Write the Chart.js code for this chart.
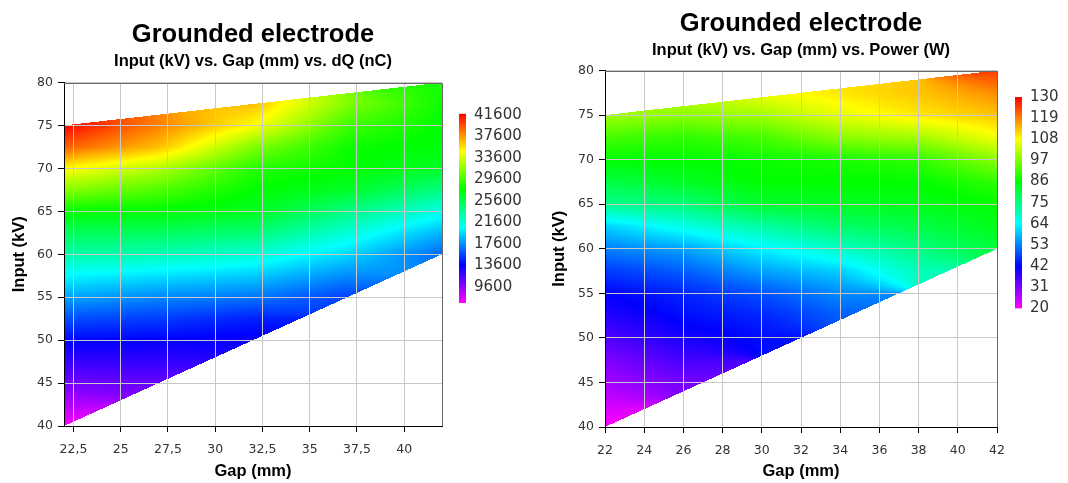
<!DOCTYPE html>
<html>
<head>
<meta charset="utf-8">
<script src="https://cdn.jsdelivr.net/npm/chart.js@4"></script>
<style>
  html, body { margin: 0; padding: 0; background: #fff; }
  body { width: 1068px; height: 483px; position: relative; overflow: hidden; }
  canvas { position: absolute; }
</style>
</head>
<body>
<canvas id="dqChart" width="506" height="483" style="left:0px;top:0px"></canvas>
<canvas id="dqBar" width="90" height="240" style="left:440px;top:90px"></canvas>
<canvas id="pwChart" width="534" height="483" style="left:534px;top:0px"></canvas>
<canvas id="pwBar" width="72" height="250" style="left:996px;top:80px"></canvas>
<script>
// measured domain: trapezoid between these edges (gap mm -> input kV)
const edgeGap = [22, 42];
const edgeLow = [40, 60];
const edgeHigh = [75, 80];

const inputRows = [40, 42.5, 45, 47.5, 50, 52.5, 55, 57.5, 60, 62.5, 65, 67.5, 70, 72.5, 75, 77.5, 80];
const inputTicks = [40, 45, 50, 55, 60, 65, 70, 75, 80];

// left: dQ (nC), one row per input value, one column per gap
const dqGap = [22, 27, 32, 37, 42];
const dqValues = [
  [6600, null, null, null, null],
  [8700, null, null, null, null],
  [10500, 10800, null, null, null],
  [12200, 12300, null, null, null],
  [13800, 13600, 13300, null, null],
  [15800, 15300, 14500, null, null],
  [18200, 17400, 16900, 15400, null],
  [20600, 19900, 19300, 17500, null],
  [23200, 22800, 21900, 19600, 16500],
  [25300, 25200, 24600, 21800, 18600],
  [27750, 27600, 26900, 24200, 21400],
  [31500, 29900, 27750, 26700, 24200],
  [34900, 32700, 28800, 27750, 26700],
  [39300, 36600, 31300, 28100, 27400],
  [41800, 38300, 34800, 29500, 27750],
  [null, null, 36600, 31300, 28100],
  [null, null, null, null, 28500]
];
const dqTicksX = [22.5, 25, 27.5, 30, 32.5, 35, 37.5, 40];
const dqBarTicks = [9600, 13600, 17600, 21600, 25600, 29600, 33600, 37600, 41600];
const dqRange = [6600, 41850];

// right: Power (W)
const pwGap = [22, 26, 30, 34, 38, 42];
const pwValues = [
  [20, null, null, null, null, null],
  [24, null, null, null, null, null],
  [28, 32, null, null, null, null],
  [31, 36, null, null, null, null],
  [35, 40, 43, null, null, null],
  [39, 43, 45, 50, null, null],
  [42, 45, 49, 54, null, null],
  [47, 50, 56, 60, 70, null],
  [53, 56, 63, 69, 75, 81],
  [60, 66, 72, 77, 80, 84],
  [74, 76, 82, 83, 84, 86],
  [80, 83, 86, 86, 86, 90],
  [86, 86, 87, 88, 90, 98],
  [92, 90, 92, 98, 100, 107],
  [100, 98, 100, 106, 110, 113],
  [null, 103, 107, 110, 113, 118],
  [null, null, null, null, null, 125]
];
const pwTicksX = [22, 24, 26, 28, 30, 32, 34, 36, 38, 40, 42];
const pwBarTicks = [20, 31, 42, 53, 64, 75, 86, 97, 108, 119, 130];
const pwRange = [20, 130];

// magenta -> blue -> cyan -> green -> yellow -> red
const rainbow = [
  [0, 255, 0, 255],
  [0.2, 0, 0, 255],
  [0.4, 0, 255, 255],
  [0.6, 0, 255, 0],
  [0.8, 255, 255, 0],
  [1, 255, 0, 0]
];

Chart.defaults.font.family = "'DejaVu Sans'";
Chart.defaults.font.size = 12.5;
Chart.defaults.color = '#333';

function colorAt(f) {
  f = Math.max(0, Math.min(1, f));
  for (let i = 1; i < rainbow.length; i++) {
    const a = rainbow[i - 1], b = rainbow[i];
    if (f <= b[0]) {
      const t = (f - a[0]) / (b[0] - a[0]);
      return [a[1] + t * (b[1] - a[1]), a[2] + t * (b[2] - a[2]), a[3] + t * (b[3] - a[3])];
    }
  }
  return rainbow[rainbow.length - 1].slice(1);
}

function cellIndex(arr, v) {
  let i = 0;
  while (i < arr.length - 2 && v > arr[i + 1]) i++;
  return i;
}

// bilinear over the grid, skipping corners outside the measured area
function sample(gaps, values, g, v) {
  const i = cellIndex(gaps, g), j = cellIndex(inputRows, v);
  const tx = Math.max(0, Math.min(1, (g - gaps[i]) / (gaps[i + 1] - gaps[i])));
  const ty = Math.max(0, Math.min(1, (v - inputRows[j]) / (inputRows[j + 1] - inputRows[j])));
  const corners = [
    [values[j][i], (1 - tx) * (1 - ty)],
    [values[j][i + 1], tx * (1 - ty)],
    [values[j + 1][i], (1 - tx) * ty],
    [values[j + 1][i + 1], tx * ty]
  ];
  let sum = 0, wsum = 0, plain = 0, n = 0;
  corners.forEach(([val, w]) => {
    if (val === null) return;
    sum += val * w; wsum += w; plain += val; n++;
  });
  if (wsum > 1e-9) return sum / wsum;
  return n ? plain / n : null;
}

function fieldPlugin(gaps, values, range) {
  return {
    id: 'field',
    beforeDraw(chart) {
      const { ctx, chartArea: a, scales: { x, y } } = chart;
      const left = Math.round(a.left), top = Math.round(a.top);
      const w = Math.round(a.right) - left, h = Math.round(a.bottom) - top;
      const img = ctx.createImageData(w, h);
      for (let py = 0; py < h; py++) {
        const v = y.getValueForPixel(top + py + 0.5);
        for (let px = 0; px < w; px++) {
          const g = x.getValueForPixel(left + px + 0.5);
          const t = (g - edgeGap[0]) / (edgeGap[1] - edgeGap[0]);
          const lo = edgeLow[0] + t * (edgeLow[1] - edgeLow[0]);
          const hi = edgeHigh[0] + t * (edgeHigh[1] - edgeHigh[0]);
          if (v < lo || v > hi) continue;
          const val = sample(gaps, values, g, v);
          if (val === null) continue;
          const c = colorAt((val - range[0]) / (range[1] - range[0]));
          const k = (py * w + px) * 4;
          img.data[k] = c[0];
          img.data[k + 1] = c[1];
          img.data[k + 2] = c[2];
          img.data[k + 3] = 255;
        }
      }
      const off = document.createElement('canvas');
      off.width = w;
      off.height = h;
      off.getContext('2d').putImageData(img, 0, 0);
      ctx.drawImage(off, left, top);
    }
  };
}

// grey top and right edges of the plot box
const frame = {
  id: 'frame',
  afterDraw(chart) {
    const { ctx, chartArea: a } = chart;
    ctx.save();
    ctx.strokeStyle = '#666';
    ctx.lineWidth = 1;
    ctx.beginPath();
    ctx.moveTo(a.left, Math.round(a.top) + 0.5);
    ctx.lineTo(Math.round(a.right) + 0.5, Math.round(a.top) + 0.5);
    ctx.lineTo(Math.round(a.right) + 0.5, a.bottom);
    ctx.stroke();
    ctx.restore();
  }
};

const titleFont = { family: "'Liberation Sans'", weight: 'bold' };

function contourChart(id, gaps, values, range, xTicks, fmt, subtitle, lay) {
  return new Chart(document.getElementById(id), {
    type: 'scatter',
    data: { datasets: [{ data: [] }] },
    options: {
      responsive: false,
      animation: false,
      layout: { padding: { left: 0, right: lay.right, top: 0, bottom: 0 } },
      scales: {
        x: {
          type: 'linear',
          min: 22,
          max: 42,
          afterBuildTicks: s => { s.ticks = xTicks.map(v => ({ value: v })); },
          afterFit: s => { s.height = lay.xHeight; },
          grid: { color: '#c8c8c8', tickColor: '#000', tickLength: 6 },
          border: { color: '#000' },
          ticks: { padding: 10, maxRotation: 0, autoSkip: false, callback: fmt },
          title: {
            display: true, text: 'Gap (mm)', color: '#000',
            font: { ...titleFont, size: 16.5 }, padding: { top: 2, bottom: 2 }
          }
        },
        y: {
          type: 'linear',
          min: 40,
          max: 80,
          afterBuildTicks: s => { s.ticks = inputTicks.map(v => ({ value: v })); },
          afterFit: s => { s.width = lay.yWidth; },
          grid: { color: '#c8c8c8', tickColor: '#000', tickLength: 6 },
          border: { color: '#000' },
          ticks: { padding: 5 },
          title: {
            display: true, text: 'Input (kV)', color: '#000',
            font: { ...titleFont, size: 16.5 }, padding: { top: lay.yTitle, bottom: lay.yTitle }
          }
        }
      },
      plugins: {
        legend: { display: false },
        tooltip: { enabled: false },
        title: {
          display: true, fullSize: false, text: 'Grounded electrode', color: '#000',
          font: { ...titleFont, size: 25.5 }, padding: { top: lay.titleTop, bottom: 0 }
        },
        subtitle: {
          display: true, fullSize: false, text: subtitle, color: '#000',
          font: { ...titleFont, size: 16.5 }, padding: { top: 1.6, bottom: lay.subBottom }
        }
      }
    },
    plugins: [fieldPlugin(gaps, values, range), frame]
  });
}

function colorBar(id, range, ticks, lay) {
  return new Chart(document.getElementById(id), {
    type: 'bar',
    data: {
      labels: [''],
      datasets: [{
        data: [range],
        borderWidth: 0,
        barPercentage: 1,
        categoryPercentage: 1,
        backgroundColor: c => {
          const y = c.chart.scales.y;
          if (!c.chart.chartArea || !y) return 'rgba(0,0,0,0)';
          const y0 = y.getPixelForValue(range[0]), y1 = y.getPixelForValue(range[1]);
          if (!isFinite(y0) || !isFinite(y1)) return 'rgba(0,0,0,0)';
          const grad = c.chart.ctx.createLinearGradient(0, y0, 0, y1);
          rainbow.forEach(s => grad.addColorStop(s[0], `rgb(${s[1]},${s[2]},${s[3]})`));
          return grad;
        }
      }]
    },
    options: {
      responsive: false,
      animation: false,
      layout: { padding: { left: 19, right: 0, top: lay.top, bottom: lay.bottom } },
      scales: {
        x: { display: false },
        y: {
          position: 'right',
          min: range[0],
          max: range[1],
          afterBuildTicks: s => { s.ticks = ticks.map(v => ({ value: v })); },
          afterFit: s => { s.width = lay.width; },
          grid: { display: false, drawTicks: false },
          border: { display: false },
          ticks: { padding: 8, font: { size: 15 }, callback: v => String(v) }
        }
      },
      plugins: { legend: { display: false }, tooltip: { enabled: false } }
    }
  });
}

contourChart('dqChart', dqGap, dqValues, dqRange, dqTicksX,
  v => String(v).replace('.', ','),
  'Input (kV) vs. Gap (mm) vs. dQ (nC)',
  { right: 64, xHeight: 57, yWidth: 64, yTitle: 9.6, titleTop: 19.2, subBottom: 11.3 });

contourChart('pwChart', pwGap, pwValues, pwRange, pwTicksX,
  v => String(v),
  'Input (kV) vs. Gap (mm) vs. Power (W)',
  { right: 71, xHeight: 56, yWidth: 71, yTitle: 15.6, titleTop: 8.2, subBottom: 10.3 });

colorBar('dqBar', dqRange, dqBarTicks, { top: 23.7, bottom: 27, width: 64 });
colorBar('pwBar', pwRange, pwBarTicks, { top: 16.5, bottom: 21.5, width: 46 });
</script>
</body>
</html>
